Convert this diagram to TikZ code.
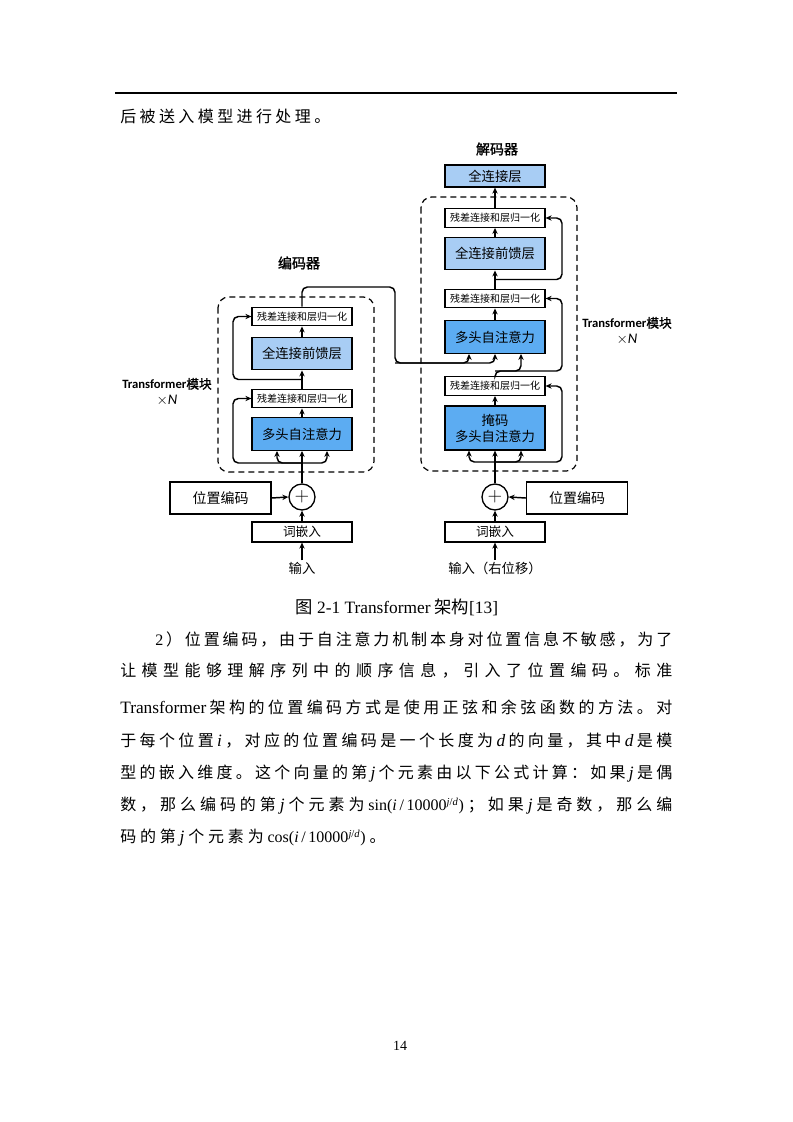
\documentclass[tikz,border=0pt]{standalone}
\usepackage{fontspec}
\setmainfont{Noto Sans CJK SC}[AutoFakeBold=1.5]
\newfontfamily\tnr{Liberation Serif}
\newfontfamily\carl{Carlito}
\usetikzlibrary{arrows.meta,calc}

\definecolor{ffnblue}{RGB}{168,205,244}
\definecolor{attblue}{RGB}{92,172,242}

% spread the items of one line over a given width
\ExplSyntaxOn
\NewDocumentCommand\spreadline{mm}{\hbox~to~#1{\tl_map_inline:nn{#2}{{##1}\hfil}\unskip}}
\ExplSyntaxOff
% italic letter in the running text
\newcommand\itl[1]{{\tnr\itshape\fontsize{13pt}{14pt}\selectfont #1}}

\tikzset{
  res/.style={draw, line width=0.9pt, fill=white, minimum width=75pt, minimum height=14pt, inner sep=0pt, font=\fontsize{7.5pt}{8pt}\selectfont},
  ffn/.style={draw, line width=0.9pt, fill=ffnblue, minimum width=75pt, minimum height=24.5pt, inner sep=0pt, font=\fontsize{10pt}{12pt}\selectfont},
  att/.style={ffn, fill=attblue},
  wbox/.style={draw, line width=0.9pt, minimum width=75pt, minimum height=15pt, inner sep=0pt, font=\fontsize{9.5pt}{10pt}\selectfont},
  pebox/.style={wbox, minimum width=75.75pt, minimum height=24pt, font=\fontsize{10.5pt}{11pt}\selectfont},
  addc/.style={draw, circle, line width=1pt, minimum size=19.5pt, inner sep=0pt, font=\fontsize{14pt}{14pt}\selectfont},
  lbl/.style={inner sep=1pt, font=\fontsize{10pt}{11pt}\selectfont},
  ttl/.style={inner sep=1pt, font=\bfseries\fontsize{10.5pt}{12pt}\selectfont},
  modlbl/.style={inner sep=1pt, align=center, font=\fontsize{9.5pt}{12pt}\selectfont},
  conn/.style={line width=1.1pt, rounded corners=4pt},
  arr/.style={conn, -{Stealth[length=4.5pt,width=4pt]}},
  dashbox/.style={dash pattern=on 4.5pt off 3pt, line width=0.9pt, rounded corners=8pt},
  body/.style={anchor=west, inner sep=0pt, font=\fontsize{12pt}{14pt}\selectfont},
}

\begin{document}
\begin{tikzpicture}[x=0.75pt,y=0.75pt,yscale=-1,xscale=1]
\fill[white] (0,0) rectangle (793,1122);

% page head
\draw[line width=0.8pt] (115,93) -- (677,93);
\node[body] (top_txt) at (120,116) {\spreadline{157.5pt}{后被送入模型进行处理。}};

% Titles
\node[ttl] (enc_title) at (299,263) {编码器};
\node[ttl] (dec_title) at (497,149) {解码器};

% Dashed blocks
\draw[dashbox] (218,297) rectangle (374,472);
\draw[dashbox] (421,197) rectangle (577,471);

% Encoder nodes
\node[res] (enc_res2) at (302,316.5) {残差连接和层归一化};
\node[ffn] (enc_ffn) at (302,353.5) {全连接前馈层};
\node[res] (enc_res1) at (302,398.5) {残差连接和层归一化};
\node[att] (enc_mha) at (302,434) {多头自注意力};
\node[addc] (enc_add) at (302,497) {$+$};
\node[pebox] (enc_pe) at (220.5,498) {位置编码};
\node[wbox] (enc_emb) at (302,532) {词嵌入};
\node[lbl] (enc_in) at (302,568) {输入};

% Decoder nodes
\node[ffn, minimum height=16.5pt] (dec_out) at (495,176) {全连接层};
\node[res] (dec_res3) at (495,218) {残差连接和层归一化};
\node[ffn] (dec_ffn) at (495,253.5) {全连接前馈层};
\node[res] (dec_res2) at (495,298.5) {残差连接和层归一化};
\node[att] (dec_mha) at (495,337) {多头自注意力};
\node[res] (dec_res1) at (495,386) {残差连接和层归一化};
\node[att, minimum height=33pt, align=center] (dec_mmha) at (495,428) {掩码\\多头自注意力};
\node[addc] (dec_add) at (495,497) {$+$};
\node[pebox] (dec_pe) at (577,498) {位置编码};
\node[wbox] (dec_emb) at (495,532) {词嵌入};
\node[lbl] (dec_in) at (495,568) {输入（右位移）};

% Block labels
\node[modlbl] (enc_lbl) at (167,392) {{\carl\bfseries Transformer}\textbf{模块}\\{\carl\fontsize{11pt}{12pt}\selectfont $\times$\itshape N}};
\node[modlbl] (dec_lbl) at (627,331) {{\carl\bfseries Transformer}\textbf{模块}\\{\carl\fontsize{11pt}{12pt}\selectfont $\times$\itshape N}};

% helper points
\coordinate (enc_split) at (302,463);
\coordinate (enc_by) at (233,0);
\coordinate (enc_mid) at ($(enc_res1.north)!.5!(enc_ffn.south)$);
\coordinate (enc_turn) at (395,287);
\coordinate (enc_drop) at (395,363);
\coordinate (dec_split) at (495,462);
\coordinate (dec_by) at (562,0);
\coordinate (dec_q) at (495,371);
\coordinate (dec_mid) at ($(dec_res2.north)!.5!(dec_ffn.south)$);

% Encoder connectors
\draw[arr] (enc_in.north) -- (enc_emb.south);
\draw[arr] (enc_emb.north) -- (enc_add.south);
\draw[arr] (enc_pe.east) -- (enc_add.west);
\draw[arr] (enc_add.north) -- (enc_mha.south);
\draw[arr] (enc_split) -| ($(enc_mha.south)+(-25,0)$);
\draw[arr] (enc_split) -| ($(enc_mha.south)+(25,0)$);
\draw[arr] (enc_split) -- (enc_split -| enc_by) |- (enc_res1.west);
\draw[arr] (enc_mha.north) -- (enc_res1.south);
\draw[arr] (enc_res1.north) -- (enc_ffn.south);
\draw[arr] (enc_mid) -- (enc_mid -| enc_by) |- (enc_res2.west);
\draw[arr] (enc_ffn.north) -- (enc_res2.south);

% Encoder to decoder
\draw[arr] (enc_res2.north) |- (enc_turn) -- (enc_drop) -| ($(dec_mha.south)+(-26,0)$);
\draw[arr] (enc_drop) -| (dec_mha.south);

% Decoder connectors
\draw[arr] (dec_in.north) -- (dec_emb.south);
\draw[arr] (dec_emb.north) -- (dec_add.south);
\draw[arr] (dec_pe.west) -- (dec_add.east);
\draw[arr] (dec_add.north) -- (dec_mmha.south);
\draw[arr] (dec_split) -| ($(dec_mmha.south)+(-26,0)$);
\draw[arr] (dec_split) -| ($(dec_mmha.south)+(26,0)$);
\draw[arr] (dec_split) -- (dec_split -| dec_by) |- (dec_res1.east);
\draw[arr] (dec_mmha.north) -- (dec_res1.south);
\draw[arr] (dec_res1.north) -- (dec_q) -| ($(dec_mha.south)+(26,0)$);
\draw[arr] (dec_q) -- (dec_q -| dec_by) |- (dec_res2.east);
\draw[arr] (dec_mha.north) -- (dec_res2.south);
\draw[arr] (dec_res2.north) -- (dec_ffn.south);
\draw[arr] (dec_mid) -- (dec_mid -| dec_by) |- (dec_res3.east);
\draw[arr] (dec_ffn.north) -- (dec_res3.south);
\draw[arr] (dec_res3.north) -- (dec_out.south);

% Caption
\node[inner sep=0pt, font=\fontsize{13pt}{15pt}\selectfont] (cap) at (397,607) {图 {\tnr 2-1 Transformer} 架构{\tnr [13]}};

% Paragraph lines
\node[body] (p1) at (155,639) {\spreadline{387.75pt}{{\tnr 2}）位置编码，由于自注意力机制本身对位置信息不敏感，为了}};
\node[body] (p2) at (120,671) {\spreadline{414pt}{让模型能够理解序列中的顺序信息，引入了位置编码。标准}};
\node[body] (p3) at (120,707) {\spreadline{414pt}{{\tnr\fontsize{13pt}{14pt}\selectfont Transformer}架构的位置编码方式是使用正弦和余弦函数的方法。对}};
\node[body] (p4) at (120,741) {\spreadline{414pt}{于每个位置{\itl{i}}，对应的位置编码是一个长度为{\itl{d}}的向量，其中{\itl{d}}是模}};
\node[body] (p5) at (120,774) {\spreadline{414pt}{型的嵌入维度。这个向量的第{\itl{j}}个元素由以下公式计算：如果{\itl{j}}是偶}};
\node[body] (p6) at (120,806) {\spreadline{414pt}{数，那么编码的第{\itl{j}}个元素为{\tnr sin(\textit{i}\,/\,10000\textsuperscript{\textit{j}/\textit{d}})}；如果{\itl{j}}是奇数，那么编}};
\node[body] (p7) at (120,838) {\spreadline{199pt}{码的第{\itl{j}}个元素为{\tnr cos(\textit{i}\,/\,10000\textsuperscript{\textit{j}/\textit{d}})}。}};

% page number
\node[inner sep=0pt, font=\tnr\fontsize{10.5pt}{12pt}\selectfont] (pageno) at (400,1046) {14};

\end{tikzpicture}
\end{document}
